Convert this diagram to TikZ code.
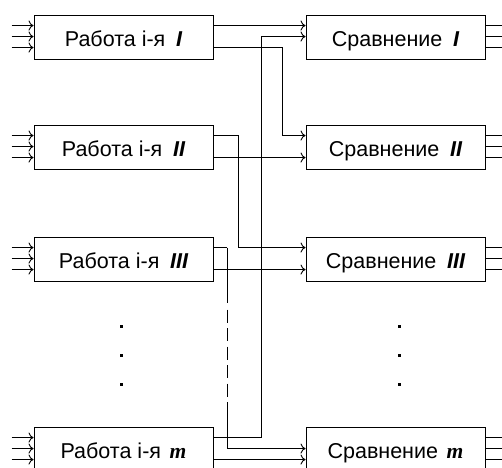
\documentclass[tikz,border=0pt]{standalone}
\usepackage{fontspec}
\setmainfont{Liberation Sans}
\newfontfamily\timesfam{Liberation Serif}
\usetikzlibrary{arrows.meta,calc}
\newcommand{\rnum}[1]{{\bfseries\itshape #1}}
\newcommand{\mnum}{{\timesfam\bfseries\itshape m}}
\begin{document}
\begin{tikzpicture}[x=1pt,y=-1pt,
  box/.style={draw, line width=0.9pt, minimum width=179pt, minimum height=44pt,
    inner sep=0pt, font=\fontsize{21.5}{25}\selectfont, text height=18pt, text depth=0pt},
  wire/.style={line width=0.9pt},
  arr/.style={wire, -{To[length=5pt,width=10pt]}},
  dotsq/.style={fill, rectangle, minimum size=3pt, inner sep=0pt},
  gapdash/.style={dash pattern=on 55pt off 7pt on 13pt off 5.5pt on 13pt off 5.5pt on 13pt off 5.5pt on 13pt off 5.5pt on 13pt off 5.5pt on 300pt}]
\useasboundingbox (0,0) rectangle (502,467);
\clip (0,0) rectangle (502,467);
% boxes
\node[box] (w1) at (123.5,37)  {Работа і-я\hspace{0.5em}\rnum{I}};
\node[box] (w2) at (123.5,147) {Работа і-я\hspace{0.5em}\rnum{II}};
\node[box] (w3) at (123.5,259) {Работа і-я\hspace{0.5em}\rnum{III}};
\node[box] (wm) at (123.5,449) {Работа і-я\hspace{0.4em}\mnum};
\node[box] (c1) at (395.5,37)  {Сравнение\hspace{0.5em}\rnum{I}};
\node[box] (c2) at (395.5,147) {Сравнение\hspace{0.5em}\rnum{II}};
\node[box] (c3) at (395.5,259) {Сравнение\hspace{0.5em}\rnum{III}};
\node[box] (cm) at (395.5,449) {Сравнение\hspace{0.4em}\mnum};
% inputs to work boxes, outputs of comparison boxes
\foreach \b in {w1,w2,w3,wm}{
  \foreach \k in {11,22,33}{
    \coordinate (\b-in\k) at ($(\b.north west)+(-22,\k)$);
    \draw[arr] (\b-in\k) -- (\b-in\k -| \b.west);
  }
}
\foreach \b in {c1,c2,c3,cm}{
  \foreach \k in {11,22,33}{
    \coordinate (\b-out\k) at ($(\b.north east)+(17,\k)$);
    \draw[wire] (\b-out\k -| \b.east) -- (\b-out\k);
  }
}
% connections
\draw[arr] ($(w1.north east)+(0,11)$) -- ($(c1.north west)+(0,11)$);
\draw[arr] ($(w1.north east)+(0,33)$) -- ++(69,0) |- ($(c2.north west)+(0,11)$);
\draw[arr] ($(wm.north east)+(0,11)$) -- ++(48,0) |- ($(c1.north west)+(0,22)$);
\draw[arr] ($(w2.north east)+(0,11)$) -- ++(25,0) |- ($(c3.north west)+(0,11)$);
\draw[arr] ($(w2.north east)+(0,33)$) -- ($(c2.north west)+(0,33)$);
\draw[arr] ($(w3.north east)+(0,33)$) -- ($(c3.north west)+(0,33)$);
\draw[arr] ($(wm.north east)+(0,33)$) -- ($(cm.north west)+(0,33)$);
\draw[wire] ($(w3.north east)+(0,11)$) -- ++(14,0) coordinate (k1);
\draw[arr, gapdash] (k1) |- ($(cm.north west)+(0,22)$);
% dots
\foreach \y [count=\i] in {326,355,384}{
  \node[dotsq] (dl\i) at (121,\y) {};
  \node[dotsq] (dr\i) at (399,\y) {};
}
\end{tikzpicture}
\end{document}
